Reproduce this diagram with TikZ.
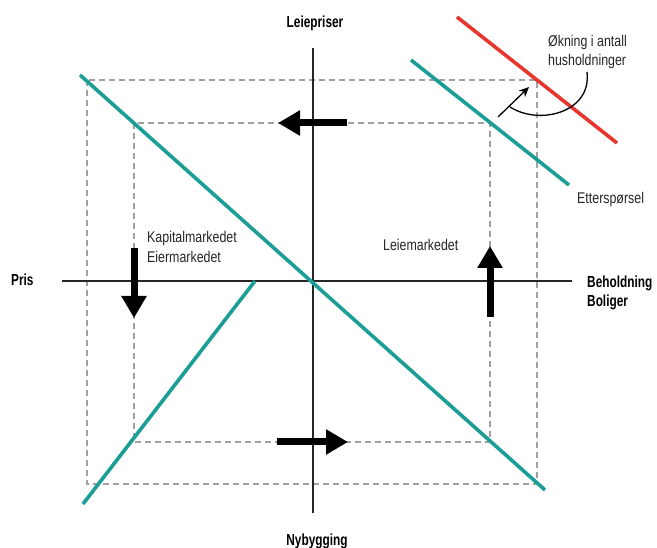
\documentclass[tikz,border=0pt]{standalone}
\usepackage{fontspec}
\setmainfont[FakeStretch=0.80, BoldFeatures={FakeStretch=0.74}]{Liberation Sans}
\usetikzlibrary{arrows.meta}
\definecolor{teal}{HTML}{1A9E96}
\definecolor{redline}{HTML}{E8352E}
\definecolor{guide}{HTML}{A0A0A0}
\tikzset{
  axis/.style={line width=1.4pt, draw=black!85},
  curve/.style={line width=3.6pt, draw=teal},
  shifted/.style={line width=3.6pt, draw=redline},
  guideline/.style={line width=1.3pt, draw=guide, dash pattern=on 6pt off 4pt},
  move/.style={line width=7pt, -{Triangle[length=22pt,width=24pt]}},
  lbl/.style={font=\fontsize{15.5}{19}\selectfont, inner sep=0pt, anchor=base west, text=black!85},
  axlbl/.style={font=\fontsize{16}{19}\selectfont\bfseries, inner sep=0pt, anchor=base west}
}
\begin{document}
\begin{tikzpicture}[x=1pt,y=-1pt]
\useasboundingbox (0,0) rectangle (657,548);
\fill[white] (0,0) rectangle (657,548);

% guide rectangles
\draw[guideline] (87,80) rectangle (537,484);
\draw[guideline] (134,123) rectangle (490,442);

% axes
\coordinate (ytop) at (313,48);
\coordinate (ybot) at (313,513);
\coordinate (xl) at (62,281);
\coordinate (xr) at (572,281);
\draw[axis] (ytop) -- (ybot);
\draw[axis] (xl) -- (xr);

% curves
\coordinate (m1) at (80,75);
\coordinate (m2) at (545,490);
\draw[curve] (m1) -- (m2);
\coordinate (b1) at (255,281);
\coordinate (b2) at (83,504);
\draw[curve] (b1) -- (b2);
\coordinate (d1) at (411,60);
\coordinate (d2) at (569,185);
\draw[curve] (d1) -- (d2);
\coordinate (r1) at (457,17);
\coordinate (r2) at (617,143);
\draw[shifted] (r1) -- (r2);

% movement arrows
\coordinate (ta) at (347,123); \coordinate (tb) at (278,123);
\draw[move] (ta) -- (tb);
\coordinate (ba) at (277,442); \coordinate (bb) at (348,442);
\draw[move] (ba) -- (bb);
\coordinate (la) at (134,248); \coordinate (lb) at (134,318);
\draw[move] (la) -- (lb);
\coordinate (ra) at (490,317); \coordinate (rb) at (490,246);
\draw[move] (ra) -- (rb);

% shift arrow
\coordinate (s0) at (587,72);
\coordinate (s1) at (510,107);
\coordinate (sa) at (498,117);
\coordinate (sb) at (529,87);
\draw[line width=1.3pt] (s0) .. controls (592,112) and (540,126) .. (s1);
\draw[line width=1.3pt, -{Stealth[length=10pt,width=9pt]}] (sa) -- (sb);

% labels
\node[axlbl, anchor=base] (tLeie) at (315,28) {Leiepriser};
\node[axlbl] (tPris) at (11,286) {Pris};
\node[axlbl] (tBeh1) at (587,288) {Beholdning};
\node[axlbl] (tBeh2) at (587,307) {Boliger};
\node[axlbl, anchor=base] (tNy) at (317,545) {Nybygging};
\node[lbl] (tKap1) at (147,243) {Kapitalmarkedet};
\node[lbl] (tKap2) at (147,263) {Eiermarkedet};
\node[lbl] (tLm) at (383,251) {Leiemarkedet};
\node[lbl] (tEt) at (577,204) {Etterspørsel};
\node[lbl] (tOk1) at (548,47) {Økning i antall};
\node[lbl] (tOk2) at (548,66) {husholdninger};
\end{tikzpicture}
\end{document}
